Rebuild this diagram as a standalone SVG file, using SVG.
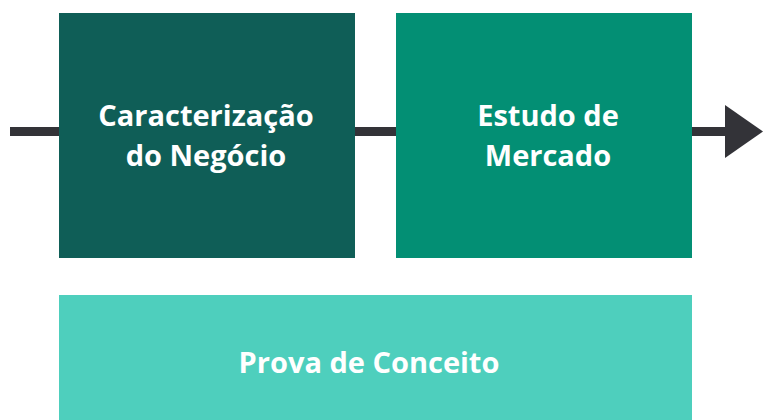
<svg xmlns="http://www.w3.org/2000/svg" width="763" height="420" viewBox="0 0 763 420">
<style>
.box-label{font-family:"Open Sans","Liberation Sans",sans-serif;font-weight:700;font-size:29px;fill:#ffffff;text-anchor:middle}
.conn{stroke:#333338;stroke-width:9;fill:none}
</style>
<rect width="763" height="420" fill="#ffffff"/>
<g id="connectors">
<line class="conn" x1="10" y1="131.5" x2="728" y2="131.5"/>
<polygon points="725,105 763,131.5 725,158" fill="#333338"/>
</g>
<g id="node-caracterizacao">
<rect x="59" y="13" width="296" height="245" fill="#0f5e57"/>
<text class="box-label" x="206" y="126">Caracterização</text>
<text class="box-label" x="206" y="166">do Negócio</text>
</g>
<g id="node-estudo">
<rect x="396" y="13" width="296" height="245" fill="#038f74"/>
<text class="box-label" x="548" y="126">Estudo de</text>
<text class="box-label" x="548" y="166">Mercado</text>
</g>
<g id="node-prova">
<rect x="59" y="295" width="633" height="125" fill="#4ecfbd"/>
<text class="box-label" x="369" y="373">Prova de Conceito</text>
</g>
</svg>
